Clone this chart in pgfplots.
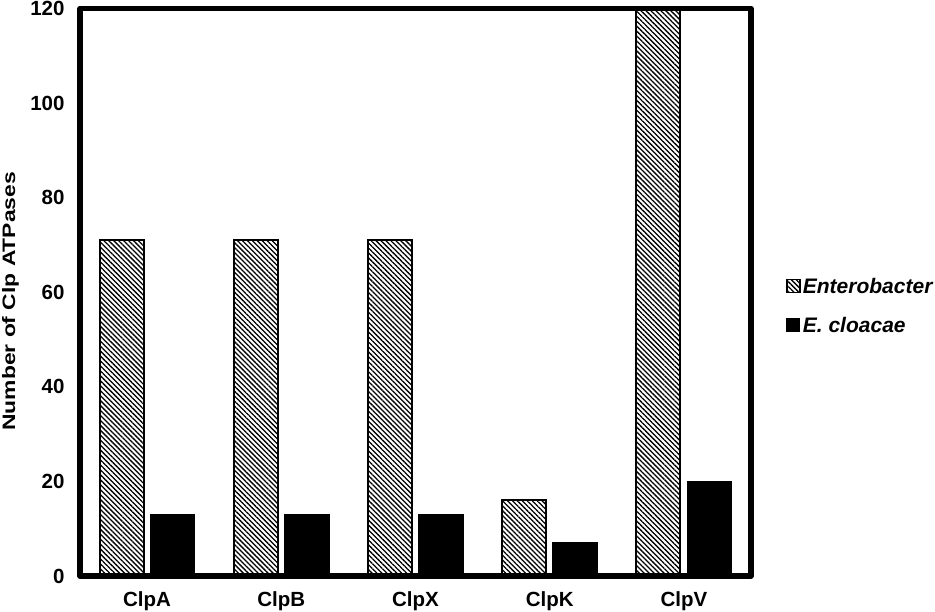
\documentclass[border=0pt]{standalone}
\usepackage{fontspec}
\setmainfont{Liberation Sans}
\usepackage{graphicx}
\usepackage{pgfplots}
\pgfplotsset{compat=1.18}
\usetikzlibrary{patterns.meta,calc}
\begin{document}
\begin{tikzpicture}
\begin{axis}[
  scale only axis, width=671pt, height=567.5pt,
  xmin=-0.5, xmax=4.5, ymin=0, ymax=120,
  ybar, bar width=0.328,
  xtick={0,1,2,3,4}, xticklabels={ClpA,ClpB,ClpX,ClpK,ClpV},
  ytick={0,20,40,60,80,100,120},
  tick style={draw=none},
  axis line style={line width=5.5pt, line join=round},
  /pgf/number format/assume math mode=true,
  ticklabel style={font=\bfseries\fontsize{20.5}{24}\selectfont},
  yticklabel style={xshift=-12pt},
  xticklabel style={yshift=-8pt},
  ylabel={\scalebox{1.27}[1]{Number of Clp ATPases}},
  ylabel style={at={(rel axis cs:-0.1036,0.484)}, anchor=center, font=\bfseries\fontsize{18}{22}\selectfont},
  clip=false,
  legend style={at={(rel axis cs:1.052,0.476)}, anchor=west, draw=none, fill=none,
    font=\bfseries\itshape\fontsize{21}{25}\selectfont, row sep=18pt, inner sep=0pt},
  legend cell align=left,
]
\addplot[bar shift=-0.19, draw=black, line width=2pt,
  pattern={Lines[angle=-45,distance=3.5pt,line width=1.3pt]}, pattern color=black,
  legend image code/.code={\draw[black, line width=1.8pt, pattern={Lines[angle=-45,distance=3.5pt,line width=1.3pt]}, pattern color=black] (0pt,-6pt) rectangle (13pt,7pt);}]
  coordinates {(0,71) (1,71) (2,71) (3,16) (4,120)};
\addlegendentry{Enterobacter}
\addplot[bar shift=0.19, draw=black, fill=black, line width=1.5pt,
  legend image code/.code={\draw[black, fill=black, line width=1pt] (0pt,-6pt) rectangle (13pt,7pt);}]
  coordinates {(0,13) (1,13) (2,13) (3,7) (4,20)};
\addlegendentry{E. cloacae}
\coordinate (bl) at (rel axis cs:0,0);
\end{axis}
\pgfresetboundingbox
\path ($(bl)+(-80pt,-36pt)$) rectangle ($(bl)+(855pt,576pt)$);
\end{tikzpicture}
\end{document}
